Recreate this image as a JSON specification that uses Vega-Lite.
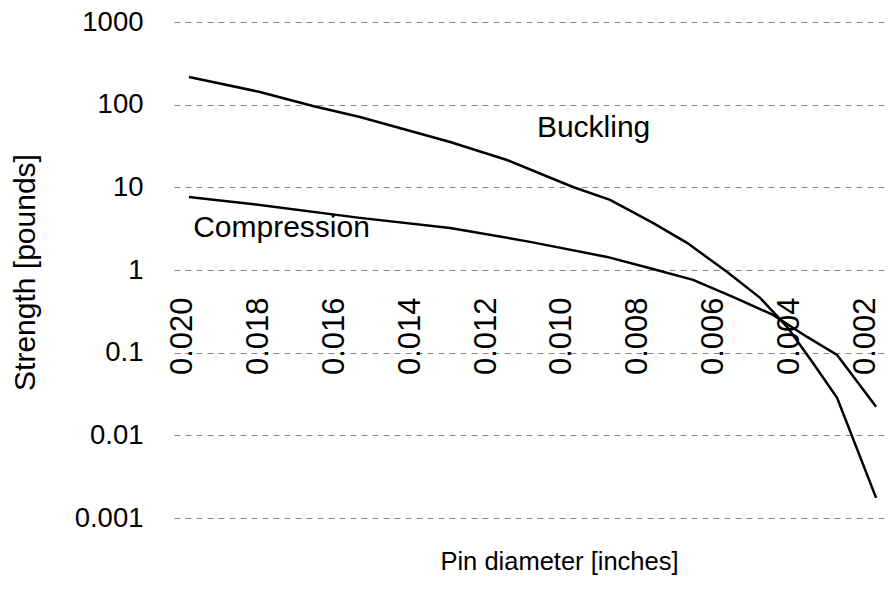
{
  "$schema": "https://vega.github.io/schema/vega-lite/v6.json",
  "autosize": {"type": "none"},
  "padding": {"left": 170, "top": 22, "right": 4, "bottom": 79},
  "width": 714,
  "height": 496,
  "background": "white",
  "config": {
    "view": {"stroke": null},
    "font": "Liberation Sans",
    "axis": {"labelColor": "#000", "titleColor": "#000", "titleFontWeight": "normal", "labelFont": "Liberation Sans", "titleFont": "Liberation Sans"}
  },
  "datasets": {
    "curves": [
      {"series": "Buckling", "d": 0.0200, "s": 216},
      {"series": "Buckling", "d": 0.01813, "s": 142.5},
      {"series": "Buckling", "d": 0.01673, "s": 96.4},
      {"series": "Buckling", "d": 0.01549, "s": 71},
      {"series": "Buckling", "d": 0.01311, "s": 35.4},
      {"series": "Buckling", "d": 0.01161, "s": 21.4},
      {"series": "Buckling", "d": 0.00987, "s": 10.1},
      {"series": "Buckling", "d": 0.00889, "s": 7.04},
      {"series": "Buckling", "d": 0.00776, "s": 3.71},
      {"series": "Buckling", "d": 0.00686, "s": 2.13},
      {"series": "Buckling", "d": 0.00580, "s": 0.948},
      {"series": "Buckling", "d": 0.00493, "s": 0.46},
      {"series": "Buckling", "d": 0.00422, "s": 0.205},
      {"series": "Buckling", "d": 0.00354, "s": 0.0753},
      {"series": "Buckling", "d": 0.00290, "s": 0.0284},
      {"series": "Buckling", "d": 0.00187, "s": 0.00175},
      {"series": "Compression", "d": 0.0200, "s": 7.65},
      {"series": "Compression", "d": 0.01813, "s": 6.12},
      {"series": "Compression", "d": 0.01549, "s": 4.27},
      {"series": "Compression", "d": 0.01311, "s": 3.23},
      {"series": "Compression", "d": 0.01100, "s": 2.19},
      {"series": "Compression", "d": 0.00897, "s": 1.44},
      {"series": "Compression", "d": 0.00776, "s": 1.03},
      {"series": "Compression", "d": 0.00670, "s": 0.759},
      {"series": "Compression", "d": 0.00565, "s": 0.473},
      {"series": "Compression", "d": 0.00459, "s": 0.286},
      {"series": "Compression", "d": 0.00369, "s": 0.155},
      {"series": "Compression", "d": 0.00290, "s": 0.094},
      {"series": "Compression", "d": 0.00187, "s": 0.0221}
    ],
    "labels": [
      {"label": "Buckling", "d": 0.01082, "s": 40.7},
      {"label": "Compression", "d": 0.01989, "s": 2.51}
    ]
  },
  "layer": [
    {
      "data": {"name": "curves"},
      "mark": {"type": "line", "color": "#000", "strokeWidth": 2.5, "clip": true},
      "encoding": {
        "x": {
          "field": "d", "type": "quantitative",
          "scale": {"domain": [0.001662, 0.020501], "reverse": true, "nice": false, "zero": false},
          "axis": {
            "values": [0.020, 0.018, 0.016, 0.014, 0.012, 0.010, 0.008, 0.006, 0.004, 0.002],
            "format": ".3f",
            "offset": -246,
            "domain": false,
            "ticks": false,
            "tickSize": 0,
            "grid": false,
            "labelAngle": 270,
            "labelAlign": "right",
            "labelBaseline": "middle",
            "labelFontSize": 31,
            "labelPadding": 25,
            "labelOffset": -6,
            "labelFlush": false,
            "labelOverlap": false,
            "title": "Pin diameter [inches]",
            "titleFontSize": 25.5,
            "titleX": 389,
            "titleY": 297,
            "titleAlign": "center",
            "titleBaseline": "alphabetic"
          }
        },
        "y": {
          "field": "s", "type": "quantitative",
          "scale": {"type": "log", "domain": [0.001, 1000], "nice": false},
          "axis": {
            "values": [0.001, 0.01, 0.1, 1, 10, 100, 1000],
            "format": "~g",
            "domain": false,
            "ticks": false,
            "tickSize": 0,
            "grid": true,
            "gridColor": "#8a8a8a",
            "gridDash": [6, 5],
            "gridWidth": 1,
            "labelFontSize": 27.5,
            "labelPadding": 27,
            "labelOverlap": false,
            "title": "Strength [pounds]",
            "titleFontSize": 30,
            "titleAngle": 270,
            "titleX": -136,
            "titleY": 250,
            "titleAlign": "center",
            "titleBaseline": "alphabetic"
          }
        },
        "detail": {"field": "series", "type": "nominal"}
      }
    },
    {
      "data": {"name": "labels"},
      "mark": {"type": "text", "align": "left", "baseline": "alphabetic", "fontSize": 30, "color": "#000", "font": "Liberation Sans"},
      "encoding": {
        "x": {"field": "d", "type": "quantitative"},
        "y": {"field": "s", "type": "quantitative"},
        "text": {"field": "label"}
      }
    }
  ]
}
